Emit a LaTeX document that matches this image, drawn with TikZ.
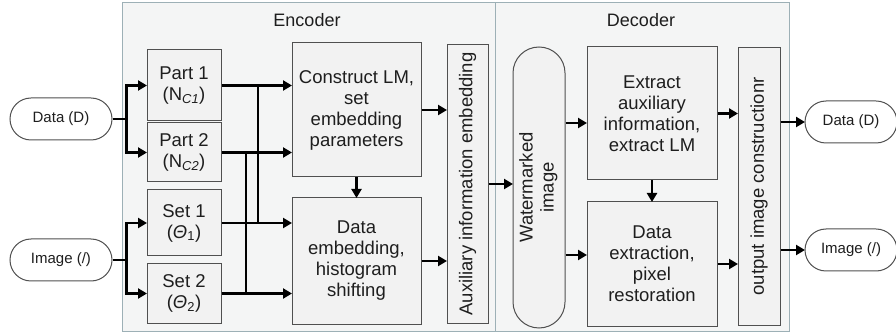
\documentclass[tikz,border=0pt]{standalone}
\usepackage{fontspec}
\setmainfont{Liberation Sans}
\usetikzlibrary{arrows.meta,shapes.misc}
\definecolor{panelfill}{HTML}{F4F5F5}
\definecolor{paneldraw}{HTML}{9DB0B6}
\definecolor{boxfill}{HTML}{F2F2F2}
\definecolor{boxdraw}{HTML}{505050}
\definecolor{txt}{HTML}{1E1E1E}
\tikzset{
  panel/.style={draw=paneldraw, fill=panelfill, line width=0.9pt},
  boxnode/.style={draw=boxdraw, fill=boxfill, line width=1pt, align=center, inner sep=0pt, text=txt,
    font=\fontsize{18.5}{21}\selectfont},
  term/.style={rounded rectangle, draw=boxdraw, fill=white, line width=1pt, inner sep=0pt, text=txt,
    font=\fontsize{15}{18}\selectfont, minimum height=42pt},
  ptitle/.style={text=txt, font=\fontsize{18}{21}\selectfont},
  conn/.style={line width=2.6pt, draw=black},
  arr/.style={conn, -{Triangle[length=9pt,width=10pt]}, shorten >=-0.5pt},
}
\begin{document}
\begin{tikzpicture}[x=1pt,y=-1pt]
\useasboundingbox (0,0) rectangle (896,336);
% panels
\draw[panel] (122,2) rectangle (495,331);
\draw[panel] (495,2) rectangle (789,331);
\node[ptitle] (enc) at (307,20) {Encoder};
\node[ptitle] (dec) at (641,20) {Decoder};
% level coordinates
\coordinate (y123) at (0,123);
\coordinate (y255) at (0,255);
\coordinate (bA) at (258,0);
\coordinate (bB) at (246,0);
% terminals
\node[term, minimum width=102pt] (dataL) at (61,119) {Data (D)};
\node[term, minimum width=102pt] (imgL) at (61,260) {Image (/)};
\node[term, minimum width=92pt] (dataR) at (851,122) {Data (D)};
\node[term, minimum width=92pt] (imgR) at (851,250) {Image (/)};
% encoder boxes
\node[boxnode, minimum width=74pt, minimum height=71pt] (p1) at (184,85.5) {Part 1\\(N\textsubscript{\itshape C1})};
\node[boxnode, minimum width=74pt, minimum height=59pt] (p2) at (184,152.5) {Part 2\\(N\textsubscript{\itshape C2})};
\node[boxnode, minimum width=74pt, minimum height=66pt] (s1) at (184,223) {Set 1\\({\itshape Θ}\textsubscript{1})};
\node[boxnode, minimum width=74pt, minimum height=59pt] (s2) at (184,293.5) {Set 2\\({\itshape Θ}\textsubscript{2})};
\node[boxnode, minimum width=129pt, minimum height=134pt] (lm) at (356.5,110) {Construct LM,\\set\\embedding\\parameters};
\node[boxnode, minimum width=129pt, minimum height=126pt] (de) at (356.5,261) {Data\\embedding,\\histogram\\shifting};
\node[boxnode, minimum width=41pt, minimum height=278pt] (aux) at (467.5,184) {\rotatebox{90}{Auxiliary information embedding}};
% decoder boxes
\node[boxnode, rounded corners=26pt, minimum width=52pt, minimum height=281pt] (wm) at (539,187.5)
  {\rotatebox{90}{\begin{tabular}{@{}c@{}}Watermarked\\image\end{tabular}}};
\node[boxnode, minimum width=130pt, minimum height=133pt] (ex) at (652,113.5) {Extract\\auxiliary\\information,\\extract LM};
\node[boxnode, minimum width=130pt, minimum height=124pt] (dx) at (652,264) {Data\\extraction,\\pixel\\restoration};
\node[boxnode, minimum width=42pt, minimum height=277pt] (oc) at (759,186.5) {\rotatebox{90}{output image constructionr}};
% input forks
\draw[arr] (dataL.east) -- ++(14,0) |- (p1.west);
\draw[arr] (dataL.east) -- ++(14,0) |- (p2.west);
\draw[arr] (imgL.east) -- ++(14,0) |- (s1.west);
\draw[arr] (imgL.east) -- ++(14,0) |- (s2.west);
% parts/sets to processing boxes
\draw[arr] (p1.east) -- (lm.west |- p1.east);
\draw[arr] (p2.east) -- (lm.west |- p2.east);
\draw[arr] (s1.east) -- (de.west |- s1.east);
\draw[arr] (s2.east) -- (de.west |- s2.east);
\draw[conn] (bA |- p1.east) -- (bA |- s1.east);
\draw[conn] (bB |- p2.east) -- (bB |- s2.east);
% encoder internal
\draw[arr] (lm.south) -- (de.north);
\draw[arr] (lm.east) -- (aux.west |- lm.east);
\draw[arr] (de.east) -- (aux.west |- de.east);
\draw[arr] (aux.east) -- (wm.west |- aux.east);
% decoder
\draw[arr] (wm.east |- y123) -- (ex.west |- y123);
\draw[arr] (wm.east |- y255) -- (dx.west |- y255);
\draw[arr] (ex.south) -- (dx.north);
\draw[arr] (ex.east) -- (oc.west |- ex.east);
\draw[arr] (dx.east) -- (oc.west |- dx.east);
\draw[arr] (oc.east |- dataR.west) -- (dataR.west);
\draw[arr] (oc.east |- imgR.west) -- (imgR.west);
\end{tikzpicture}
\end{document}
